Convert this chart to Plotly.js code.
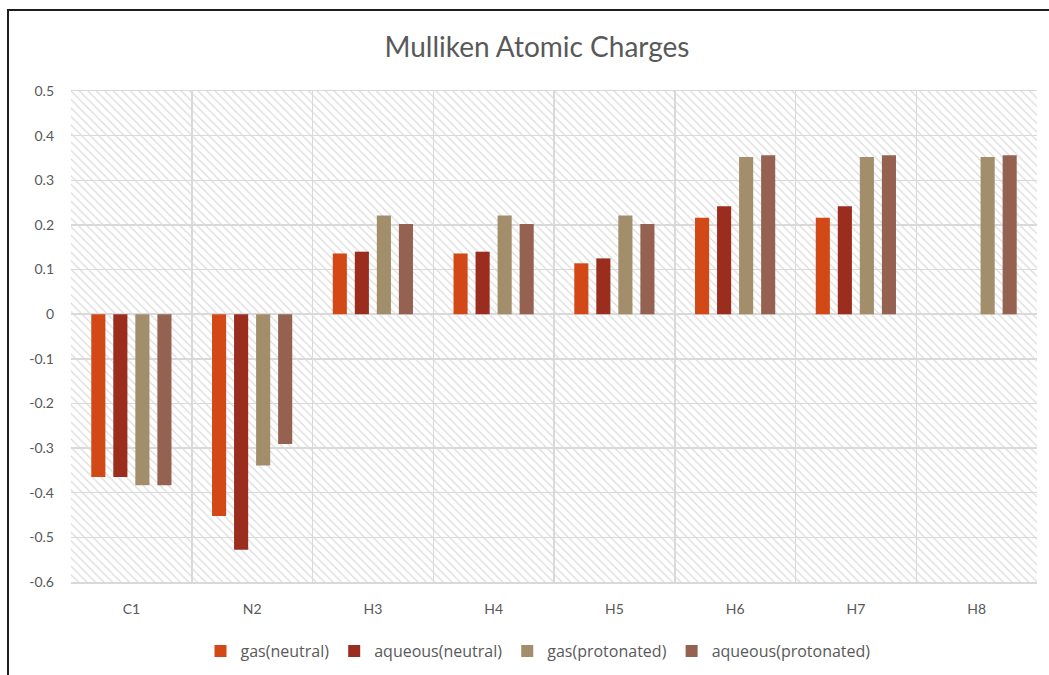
<!DOCTYPE html>
<html>
<head>
<meta charset="utf-8">
<script src="https://cdn.plot.ly/plotly-3.0.1.min.js"></script>
<style>
html,body{margin:0;padding:0;background:#fff;}
#chart{width:1049px;height:675px;}
</style>
</head>
<body>
<div id="chart"></div>
<script>
// ---- data ----
const atoms = ["C1", "N2", "H3", "H4", "H5", "H6", "H7", "H8"];
const gasNeutral = [-0.365, -0.452, 0.136, 0.136, 0.114, 0.216, 0.216, null];
const aqueousNeutral = [-0.365, -0.528, 0.140, 0.140, 0.125, 0.242, 0.242, null];
const gasProtonated = [-0.383, -0.339, 0.221, 0.221, 0.221, 0.352, 0.352, 0.352];
const aqueousProtonated = [-0.383, -0.291, 0.202, 0.202, 0.202, 0.356, 0.356, 0.356];
const seriesNames = ["gas(neutral)", "aqueous(neutral)", "gas(protonated)", "aqueous(protonated)"];
const seriesColors = ["#D34817", "#9B2D1F", "#A28E6A", "#956251"];
const yTicks = [0.5, 0.4, 0.3, 0.2, 0.1, 0, -0.1, -0.2, -0.3, -0.4, -0.5, -0.6];

const W = 1049, H = 675;
const M = {l: 71, r: 12, t: 91, b: 93};
const yMin = -0.6, yMax = 0.5;
const txtColor = "#595959";
const gridColor = "#d9d9d9";
const font = "Lato, 'Open Sans', sans-serif";
const legendFont = "'Open Sans', Lato, sans-serif";

const seriesValues = [gasNeutral, aqueousNeutral, gasProtonated, aqueousProtonated];

// hatched plot background (drawn on hidden base axis)
const hatch = {
  type: "bar", x: [0.5], y: [yMax - yMin], base: [yMin], width: [1],
  xaxis: "x", yaxis: "y",
  marker: {color: "rgba(0,0,0,0)", line: {width: 0},
    pattern: {shape: "\\", fgcolor: "#dadada", bgcolor: "rgba(0,0,0,0)", size: 6, solidity: 0.2}},
  hoverinfo: "skip", showlegend: false
};

const traces = [hatch].concat(seriesValues.map((vals, i) => ({
  type: "bar", name: seriesNames[i], x: atoms, y: vals,
  xaxis: "x2", yaxis: "y",
  marker: {color: seriesColors[i], line: {width: 0}}
})));

// frame (top and left border) in paper coordinates
const pw = W - M.l - M.r, ph = H - M.t - M.b;
const px = v => (v - M.l) / pw;
const py = v => (H - M.b - v) / ph;

const layout = {
  width: W, height: H,
  margin: M,
  paper_bgcolor: "#fff", plot_bgcolor: "#fff",
  font: {family: font, color: txtColor, size: 14},
  title: {text: "Mulliken Atomic Charges", font: {family: font, size: 28, color: txtColor},
    x: 537 / W, xref: "container", xanchor: "center", y: 1 - 47 / H, yref: "container", yanchor: "middle"},
  barmode: "group", bargap: 0.27, bargroupgap: 0.36,
  showlegend: true,
  legend: {orientation: "h", x: 538 / W, xref: "container", xanchor: "center",
    y: 1 - 651 / H, yref: "container", yanchor: "middle",
    font: {family: legendFont, size: 16, color: txtColor}, itemwidth: 30, traceorder: "normal"},
  xaxis: {range: [0, 1], visible: false, fixedrange: true},
  xaxis2: {overlaying: "x", type: "category", tickson: "boundaries",
    showgrid: true, gridcolor: gridColor, gridwidth: 1.5,
    showline: true, linecolor: gridColor, linewidth: 1.5, mirror: true,
    ticks: "", ticklabelstandoff: 14, tickfont: {family: font, size: 14, color: txtColor},
    categoryorder: "array", categoryarray: atoms, zeroline: false},
  yaxis: {range: [yMin, yMax], tickvals: yTicks, ticktext: yTicks.map(String),
    showgrid: true, gridcolor: gridColor, gridwidth: 1.5,
    zeroline: true, zerolinecolor: gridColor, zerolinewidth: 1.5,
    ticks: "", ticklabelstandoff: 16, tickfont: {family: font, size: 14, color: txtColor}},
  shapes: [
    {type: "line", xref: "paper", yref: "paper", x0: px(7), x1: px(W + 5), y0: py(10), y1: py(10),
      line: {color: "#1e1e1e", width: 2}},
    {type: "line", xref: "paper", yref: "paper", x0: px(8), x1: px(8), y0: py(9), y1: py(H + 5),
      line: {color: "#1e1e1e", width: 2}}
  ]
};

Plotly.newPlot("chart", traces, layout, {displayModeBar: false, staticPlot: true});
</script>
</body>
</html>
